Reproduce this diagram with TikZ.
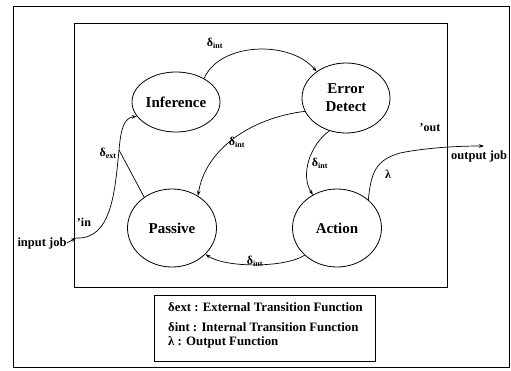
\documentclass[tikz,border=0pt]{standalone}
\usepackage{fontspec}
\setmainfont{Liberation Serif}
\usetikzlibrary{shapes.geometric,arrows.meta}
\begin{document}
\begin{tikzpicture}[x=1pt,y=-1pt,
  state/.style={draw,ellipse,line width=0.8pt,inner sep=0pt,align=center,font=\fontsize{15}{16}\selectfont\bfseries},
  arr/.style={line width=0.7pt,-{Stealth[length=5pt,width=3.5pt]}},
  conn/.style={line width=0.7pt},
  lbl/.style={inner sep=0pt,font=\fontsize{12}{13}\selectfont\bfseries},
  leg/.style={inner sep=0pt,anchor=west,font=\fontsize{12.8}{14}\selectfont\bfseries},
  frame/.style={draw,line width=0.8pt}]
\useasboundingbox (0,0) rectangle (511,370);
\draw[frame] (13,6) rectangle (509,367);
\draw[frame] (74,23) rectangle (447,287);
\node[state,minimum width=88pt,minimum height=60pt] (inf) at (176,102) {Inference};
\node[state,minimum width=88pt,minimum height=70pt] (err) at (346,98) {Error\\[2pt]Detect};
\node[state,minimum width=89pt,minimum height=78pt] (pas) at (172,228) {Passive};
\node[state,minimum width=89pt,minimum height=78pt] (act) at (337,228) {Action};
% internal transitions
\draw[arr] (inf.40) .. controls (220,42) and (290,40) .. (err.138);
\draw[arr] (err.198) .. controls (250,118) and (205,150) .. (pas.51);
\draw[arr] (err.243) .. controls (310,145) and (300,175) .. (act.126);
\draw[arr] (act.220) .. controls (285,268) and (225,268) .. (pas.322);
% input
\node[inner sep=0pt,font=\fontsize{12.5}{13}\selectfont\bfseries] (injob) at (42,243) {input job};
\coordinate (inedge) at (76,238);
\coordinate (jn) at (119,150);
\draw[arr] (injob.east) -- (inedge);
\draw[arr] (inedge) .. controls (112,240) and (115,190) .. (jn) .. controls (121,128) and (124,118) .. (inf.200);
\draw[conn] (pas.132) -- (jn);
% output
\coordinate (outmid) at (400,153);
\coordinate (outend) at (484,146);
\node[inner sep=0pt,anchor=west,font=\fontsize{12.5}{13}\selectfont\bfseries] (outjob) at (451,156) {output job};
\draw[arr] (act.42) .. controls (371,172) and (376,160) .. (outmid) .. controls (425,148) and (455,146) .. (outend);
% labels
\node[lbl] (l1) at (215,43) {δ\textsubscript{int}};
\node[lbl] (l2) at (237,142) {δ\textsubscript{int}};
\node[lbl] (l3) at (320,163) {δ\textsubscript{int}};
\node[lbl] (l4) at (255,261) {δ\textsubscript{int}};
\node[lbl] (l5) at (108,153) {δ\textsubscript{ext}};
\node[lbl] (lin) at (84,222) {'in};
\node[lbl] (lout) at (430,128) {'out};
\node[lbl] (llam) at (388,174) {λ};
% legend
\draw[frame,line width=0.6pt] (154,295) rectangle (375,361);
\node[leg] (g1) at (168,307) {δext : External Transition Function};
\node[leg] (g2) at (168,327) {δint : Internal Transition Function};
\node[leg] (g3) at (168,342) {λ : Output Function};
\end{tikzpicture}
\end{document}
